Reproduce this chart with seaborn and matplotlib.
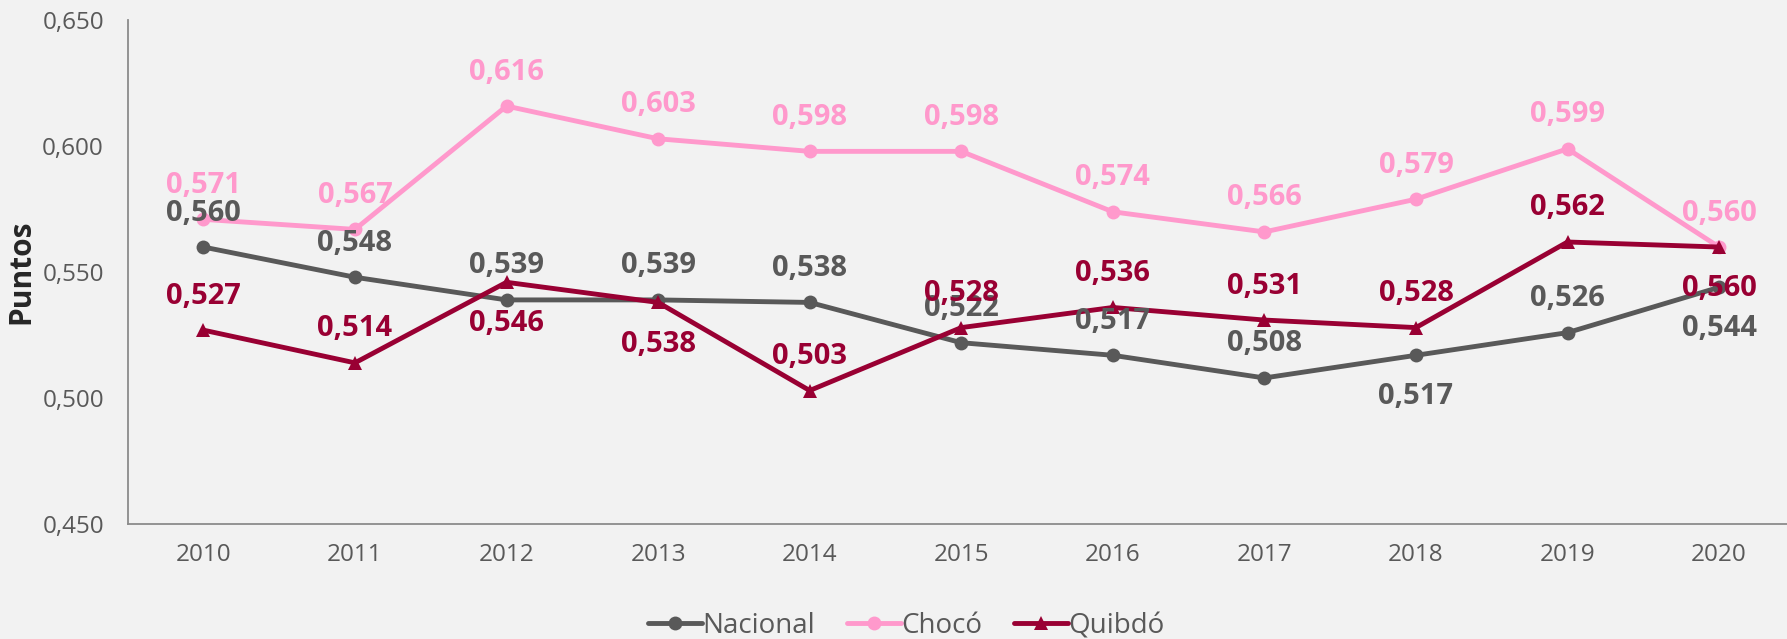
import matplotlib
matplotlib.use("Agg")
import matplotlib.pyplot as plt
import seaborn as sns
import pandas as pd
from matplotlib.ticker import FuncFormatter

years = ["2010", "2011", "2012", "2013", "2014", "2015", "2016", "2017", "2018", "2019", "2020"]
nacional = [0.560, 0.548, 0.539, 0.539, 0.538, 0.522, 0.517, 0.508, 0.517, 0.526, 0.544]
choco = [0.571, 0.567, 0.616, 0.603, 0.598, 0.598, 0.574, 0.566, 0.579, 0.599, 0.560]
quibdo = [0.527, 0.514, 0.546, 0.538, 0.503, 0.528, 0.536, 0.531, 0.528, 0.562, 0.560]

# label placement per point: +1 above, -1 below
nacional_side = [1, 1, 1, 1, 1, 1, 1, 1, -1, 1, -1]
choco_side = [1] * 11
quibdo_side = [1, 1, -1, -1, 1, 1, 1, 1, 1, 1, -1]

series = ["Nacional", "Chocó", "Quibdó"]
colors = {"Nacional": "#595959", "Chocó": "#FF99CC", "Quibdó": "#990033"}
markers = {"Nacional": "o", "Chocó": "o", "Quibdó": "^"}

df = pd.DataFrame({
    "Año": years * 3,
    "Valor": nacional + choco + quibdo,
    "Serie": [s for s in series for _ in years],
})
df["x"] = [i for _ in series for i in range(len(years))]

sns.set_theme(style="white")
plt.rcParams["font.family"] = ["Open Sans", "DejaVu Sans"]

bg = "#F2F2F2"
fig = plt.figure(figsize=(17.87, 6.39), dpi=100, facecolor=bg)
ax = fig.add_axes([0.0714, 0.180, 0.933, 0.788], facecolor=bg)

sns.lineplot(data=df, x="x", y="Valor", hue="Serie", style="Serie",
             palette=colors, markers=markers, dashes=False, linewidth=3.5,
             markersize=10, markeredgewidth=0, ax=ax, legend=False, sort=False)

ax.set_xlim(-0.5, len(years) - 0.5)
ax.set_ylim(0.45, 0.65)
ax.set_xticks(range(len(years)))
ax.set_xticklabels(years)
ax.set_yticks([0.45, 0.50, 0.55, 0.60, 0.65])
ax.yaxis.set_major_formatter(FuncFormatter(lambda v, p: f"{v:.3f}".replace(".", ",")))
ax.tick_params(axis="both", length=0, labelsize=17.5, labelcolor="#595959")
ax.tick_params(axis="x", pad=14)
ax.tick_params(axis="y", pad=17)
ax.set_xlabel("")
ax.set_ylabel("Puntos", fontsize=21.5, fontweight="bold", color="#262626")
ax.yaxis.set_label_coords(-0.055, 0.5)

for side in ["top", "right"]:
    ax.spines[side].set_visible(False)
for side in ["left", "bottom"]:
    ax.spines[side].set_color("#8C8C8C")
    ax.spines[side].set_linewidth(1.3)

for name, vals, sides in [("Nacional", nacional, nacional_side),
                          ("Chocó", choco, choco_side),
                          ("Quibdó", quibdo, quibdo_side)]:
    for i, (v, s) in enumerate(zip(vals, sides)):
        off = 24.5 if s > 0 else -30
        ax.annotate(f"{v:.3f}".replace(".", ","), (i, v), xytext=(0, off),
                    textcoords="offset points", ha="center", va="center",
                    fontsize=21, fontweight="bold", color=colors[name])

handles = [plt.Line2D([], [], color=colors[s], marker=markers[s], linewidth=3.5,
                      markersize=10, markeredgewidth=0) for s in series]
fig.legend(handles, series, loc="center", bbox_to_anchor=(0.507, 0.02),
           ncol=3, frameon=False, fontsize=20, handlelength=1.95,
           handletextpad=0.0, columnspacing=1.15, labelcolor="#595959")

fig.savefig("out.png", dpi=100, facecolor=bg)
